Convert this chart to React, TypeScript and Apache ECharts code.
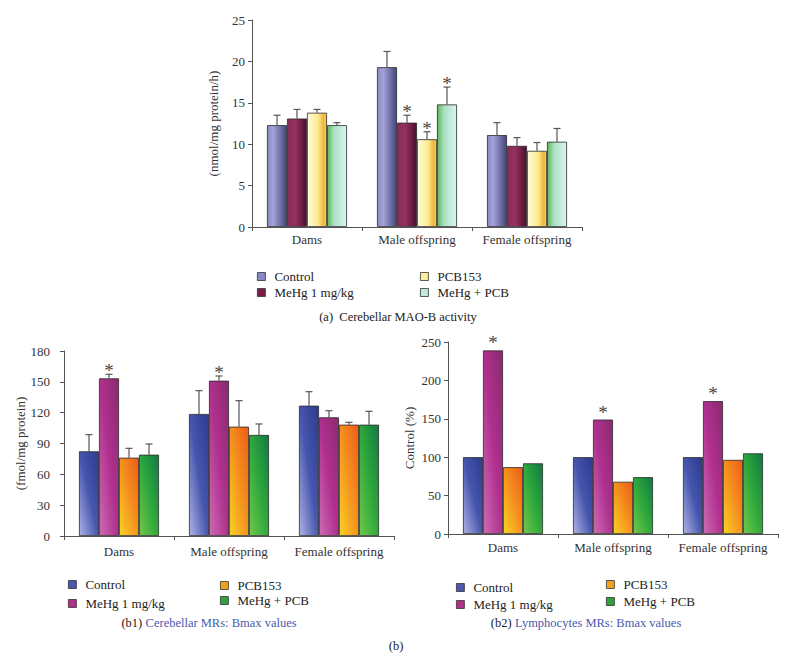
import React, { useEffect, useRef } from 'react';
import * as echarts from 'echarts';

const categories = ['Dams', 'Male offspring', 'Female offspring'];
const groupNames = ['Control', 'MeHg 1 mg/kg', 'PCB153', 'MeHg + PCB'];

// (a) Cerebellar MAO-B activity (nmol/mg protein/h)
const maoControl = [12.3, 19.3, 11.1];
const maoMeHg = [13.1, 12.6, 9.8];
const maoPCB = [13.8, 10.6, 9.2];
const maoMix = [12.3, 14.8, 10.3];
const maoControlErr = [1.2, 1.9, 1.5];
const maoMeHgErr = [1.1, 0.9, 1.0];
const maoPCBErr = [0.4, 0.9, 1.0];
const maoMixErr = [0.3, 2.1, 1.6];
const maoControlStar = [0, 0, 0];
const maoMeHgStar = [0, 1, 0];
const maoPCBStar = [0, 1, 0];
const maoMixStar = [0, 1, 0];
const maoTicks = { min: 0, max: 25, interval: 5 };

// (b1) Cerebellar MRs: Bmax values (fmol/mg protein)
const cerControl = [82.4, 118.7, 126.8];
const cerMeHg = [153.4, 151.1, 115.5];
const cerPCB = [76.2, 106.4, 108.3];
const cerMix = [79.1, 98.3, 108.3];
const cerControlErr = [16.2, 22.7, 13.6];
const cerMeHgErr = [3.9, 4.6, 6.4];
const cerPCBErr = [9.1, 25.3, 2.3];
const cerMixErr = [10.4, 10.7, 13.0];
const cerControlStar = [0, 0, 0];
const cerMeHgStar = [1, 1, 0];
const cerPCBStar = [0, 0, 0];
const cerMixStar = [0, 0, 0];
const cerTicks = { min: 0, max: 180, interval: 30 };

// (b2) Lymphocytes MRs: Bmax values (Control %)
const lymControl = [100, 100, 100];
const lymMeHg = [239, 149, 173];
const lymPCB = [87, 68, 96.5];
const lymMix = [92, 74, 105];
const lymErr = [0, 0, 0];
const lymControlStar = [0, 0, 0];
const lymMeHgStar = [1, 1, 1];
const lymPCBStar = [0, 0, 0];
const lymMixStar = [0, 0, 0];
const lymTicks = { min: 0, max: 250, interval: 50 };

const FONT = '"Liberation Serif", "Times New Roman", serif';
const BAR_W = 20;

const LG = echarts.graphic.LinearGradient;

const topColors = [
  new LG(0, 0, 1, 0, [
    { offset: 0, color: '#8a8ac4' },
    { offset: 0.3, color: '#a3a3d8' },
    { offset: 1, color: '#45457e' },
  ]),
  new LG(0, 0, 1, 0, [
    { offset: 0, color: '#872c58' },
    { offset: 0.4, color: '#96315f' },
    { offset: 1, color: '#4a0e2c' },
  ]),
  new LG(0, 0, 1, 0, [
    { offset: 0, color: '#fffbdc' },
    { offset: 0.55, color: '#fdeb90' },
    { offset: 0.85, color: '#efb53a' },
    { offset: 1, color: '#f6cf6a' },
  ]),
  new LG(0, 0, 1, 0, [
    { offset: 0, color: '#5db85a' },
    { offset: 0.35, color: '#ace0c4' },
    { offset: 1, color: '#d9f4f4' },
  ]),
];
const topLegendColors = ['#8888c6', '#7a1e48', '#fbeea0', '#bfeadc'];

const botColors = [
  new LG(0, 1, 1, 0, [
    { offset: 0, color: '#aeb2e2' },
    { offset: 0.5, color: '#4656ae' },
    { offset: 1, color: '#2c3a8e' },
  ]),
  new LG(0, 1, 1, 0, [
    { offset: 0, color: '#cc6cb4' },
    { offset: 0.5, color: '#b0308e' },
    { offset: 1, color: '#8a2a70' },
  ]),
  new LG(0, 1, 1, 0, [
    { offset: 0, color: '#fad226' },
    { offset: 0.5, color: '#f5921e' },
    { offset: 1, color: '#ee5a18' },
  ]),
  new LG(0, 1, 1, 0, [
    { offset: 0, color: '#70c84a' },
    { offset: 0.5, color: '#2fa83c' },
    { offset: 1, color: '#0f7a44' },
  ]),
];
const botLegendColors = ['#4a58b0', '#b0308a', '#f4a020', '#30a040'];

type Chart = {
  values: number[][];
  errs: number[][];
  stars: number[][];
  colors: any[];
};

const charts: Chart[] = [
  {
    values: [maoControl, maoMeHg, maoPCB, maoMix],
    errs: [maoControlErr, maoMeHgErr, maoPCBErr, maoMixErr],
    stars: [maoControlStar, maoMeHgStar, maoPCBStar, maoMixStar],
    colors: topColors,
  },
  {
    values: [cerControl, cerMeHg, cerPCB, cerMix],
    errs: [cerControlErr, cerMeHgErr, cerPCBErr, cerMixErr],
    stars: [cerControlStar, cerMeHgStar, cerPCBStar, cerMixStar],
    colors: botColors,
  },
  {
    values: [lymControl, lymMeHg, lymPCB, lymMix],
    errs: [lymErr, lymErr, lymErr, lymErr],
    stars: [lymControlStar, lymMeHgStar, lymPCBStar, lymMixStar],
    colors: botColors,
  },
];

function buildOption() {
  const axisLine = { lineStyle: { color: '#555', width: 1 } };
  const labelStyle = { color: '#333', fontFamily: FONT, fontSize: 13 };

  const grids = [
    { left: 252, top: 20, width: 330, height: 207 },
    { left: 64, top: 351, width: 330, height: 185 },
    { left: 448, top: 342, width: 330, height: 192 },
  ];
  const labelMargins = [6, 9, 7];
  const yLabelMargins = [7, 14, 7];
  const yNames = ['(nmol/mg protein/h)', '(fmol/mg protein)', 'Control (%)'];
  const yNameGaps = [32, 28, 32];
  const ticks = [maoTicks, cerTicks, lymTicks];

  const xAxis = grids.map((_, i) => ({
    type: 'category',
    gridIndex: i,
    data: categories,
    axisLine,
    axisTick: { show: true, length: 4, lineStyle: { color: '#555' } },
    axisLabel: { ...labelStyle, margin: labelMargins[i], interval: 0 },
  }));
  const yAxis = grids.map((_, i) => ({
    type: 'value',
    gridIndex: i,
    min: ticks[i].min,
    max: ticks[i].max,
    interval: ticks[i].interval,
    splitLine: { show: false },
    axisLine: { show: true, ...axisLine },
    axisTick: { show: true, length: 4, lineStyle: { color: '#555' } },
    axisLabel: { ...labelStyle, margin: yLabelMargins[i] },
    name: yNames[i],
    nameLocation: 'middle',
    nameGap: yNameGaps[i],
    nameTextStyle: { color: '#333', fontFamily: FONT, fontSize: 13 },
  }));

  const series: any[] = [];
  charts.forEach((ch, ci) => {
    ch.values.forEach((vals, gi) => {
      series.push({
        type: 'bar',
        name: groupNames[gi],
        xAxisIndex: ci,
        yAxisIndex: ci,
        data: vals,
        barWidth: BAR_W,
        barGap: '0%',
        itemStyle: { color: ch.colors[gi], borderColor: '#2a2a2a', borderWidth: 0.8 },
      });
    });
    const errData: number[][] = [];
    ch.values.forEach((vals, gi) => {
      vals.forEach((v, c) => {
        errData.push([c, gi, v, ch.errs[gi][c], ch.stars[gi][c]]);
      });
    });
    series.push({
      type: 'custom',
      name: 'err' + ci,
      xAxisIndex: ci,
      yAxisIndex: ci,
      z: 5,
      silent: true,
      encode: { x: 0, y: 2 },
      data: errData,
      renderItem: (params: any, api: any) => {
        const c = api.value(0);
        const g = api.value(1);
        const v = api.value(2);
        const e = api.value(3);
        const s = api.value(4);
        const base = api.coord([c, v]);
        const x = base[0] + (g - 1.5) * BAR_W;
        const yTop = api.coord([c, v + e])[1];
        const children: any[] = [];
        if (e > 0) {
          children.push({
            type: 'line',
            shape: { x1: x, y1: base[1], x2: x, y2: yTop },
            style: { stroke: '#555', lineWidth: 1.2 },
          });
          children.push({
            type: 'line',
            shape: { x1: x - 3.5, y1: yTop, x2: x + 3.5, y2: yTop },
            style: { stroke: '#555', lineWidth: 1.2 },
          });
        }
        if (s) {
          children.push({
            type: 'text',
            x,
            y: yTop + (e > 0 ? 6 : 2),
            style: {
              text: '*',
              fontSize: 19,
              fontFamily: FONT,
              fill: '#444',
              align: 'center',
              verticalAlign: 'bottom',
            },
          });
        }
        return { type: 'group', children };
      },
    });
  });

  const mkLegend = (names: string[], colors: string[], left: number, top: number, gap: number) => ({
    orient: 'vertical',
    left,
    top,
    itemWidth: 8,
    itemHeight: 8,
    itemGap: gap,
    icon: 'rect',
    selectedMode: false,
    textStyle: { color: '#222', fontFamily: FONT, fontSize: 13, padding: [0, 0, 0, 4] },
    data: names.map((n, i) => ({
      name: n,
      itemStyle: { color: colors[i], borderColor: '#333', borderWidth: 0.8 },
    })),
  });

  const legend = [
    mkLegend([groupNames[0], groupNames[1]], [topLegendColors[0], topLegendColors[1]], 252, 265, 3),
    mkLegend([groupNames[2], groupNames[3]], [topLegendColors[2], topLegendColors[3]], 415, 265, 3),
    mkLegend([groupNames[0], groupNames[1]], [botLegendColors[0], botLegendColors[1]], 63, 573, 6),
    mkLegend([groupNames[2], groupNames[3]], [botLegendColors[2], botLegendColors[3]], 215, 574, 2),
    mkLegend([groupNames[0], groupNames[1]], [botLegendColors[0], botLegendColors[1]], 451, 576, 4),
    mkLegend([groupNames[2], groupNames[3]], [botLegendColors[2], botLegendColors[3]], 601, 573, 4),
  ];

  const capRich = {
    k: { fill: '#222', fontFamily: FONT, fontSize: 12.5 },
    b: { fill: '#4a5aae', fontFamily: FONT, fontSize: 12.5 },
  };
  const graphic = [
    {
      type: 'text',
      x: 398,
      y: 317,
      style: {
        text: '(a)  Cerebellar MAO-B activity',
        fill: '#222',
        fontFamily: FONT,
        fontSize: 12.5,
        align: 'center',
        verticalAlign: 'middle',
      },
    },
    {
      type: 'text',
      x: 209,
      y: 623,
      style: {
        text: '{k|(b1)} {b|Cerebellar MRs: Bmax values}',
        rich: capRich,
        align: 'center',
        verticalAlign: 'middle',
      },
    },
    {
      type: 'text',
      x: 586,
      y: 623,
      style: {
        text: '{k|(b2)} {b|Lymphocytes MRs: Bmax values}',
        rich: capRich,
        align: 'center',
        verticalAlign: 'middle',
      },
    },
    {
      type: 'text',
      x: 396,
      y: 646,
      style: {
        text: '(b)',
        fill: '#222',
        fontFamily: FONT,
        fontSize: 12.5,
        align: 'center',
        verticalAlign: 'middle',
      },
    },
  ];

  return {
    animation: false,
    backgroundColor: '#ffffff',
    grid: grids,
    xAxis,
    yAxis,
    legend,
    series,
    graphic,
  };
}

export default function App() {
  const ref = useRef<HTMLDivElement>(null);
  useEffect(() => {
    if (!ref.current) return;
    const chart = echarts.init(ref.current, undefined, { renderer: 'svg' });
    chart.setOption(buildOption() as any);
    return () => chart.dispose();
  }, []);
  return (
    <div
      ref={ref}
      style={{ position: 'absolute', left: 0, top: 0, width: 793, height: 657, background: '#fff' }}
    />
  );
}
